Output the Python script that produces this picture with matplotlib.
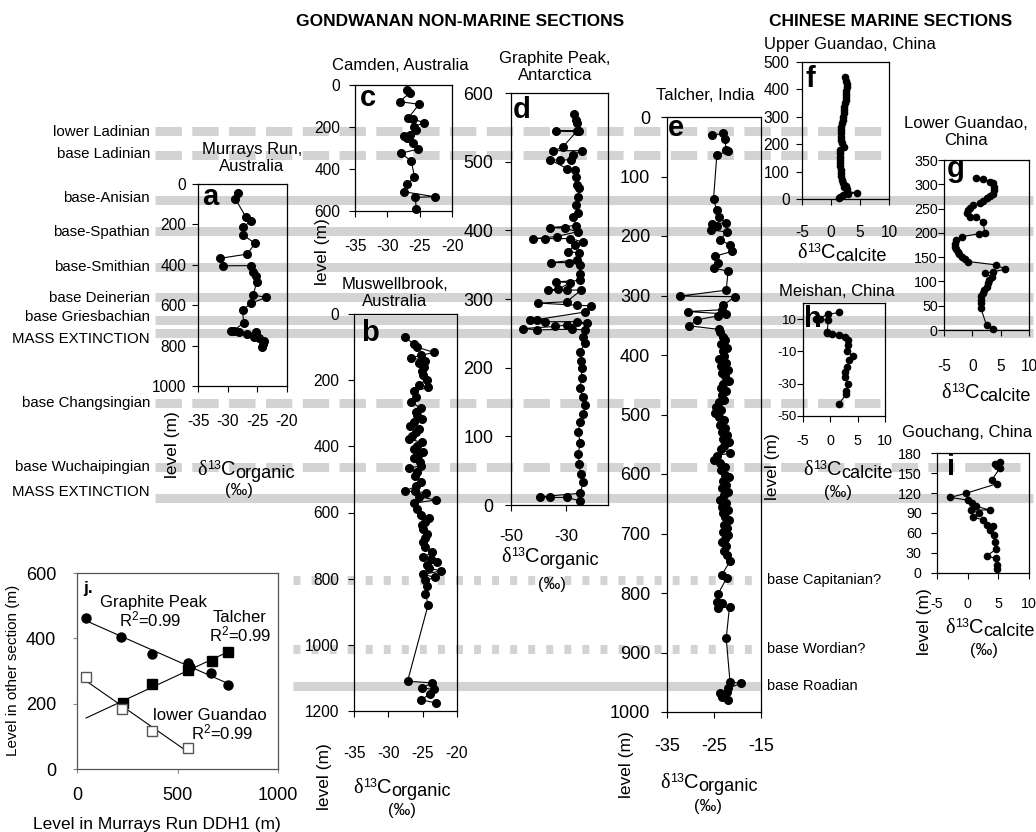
import numpy as np
import matplotlib
matplotlib.use('Agg')
import matplotlib.pyplot as plt
from matplotlib import font_manager
from matplotlib.lines import Line2D

# ---------------------------------------------------------------------------
# Data (level in m, delta13C in permil)
# ---------------------------------------------------------------------------

# a. Murrays Run, Australia
murrays_level = [46, 74, 165, 183, 214, 252, 294, 347, 368, 405, 404, 438, 455, 484, 550,
                 561, 591, 624, 687, 726, 730, 735, 743, 735, 755, 764, 775, 790, 805]
murrays_d13c = [-28.2, -28.7, -26.9, -26.0, -27.5, -27.4, -25.4, -26.7, -31.3, -30.8, -26.1,
                -25.7, -25.3, -25.1, -25.7, -23.5, -26.1, -27.5, -27.3, -29.0, -29.5, -28.1,
                -26.7, -25.3, -25.6, -24.7, -23.9, -24.0, -24.2]

# c. Camden, Australia
camden_level = [24, 37, 79, 92, 159, 163, 179, 198, 214, 238, 243, 254, 275, 305, 325, 362,
                437, 473, 508, 532, 535, 592]
camden_d13c = [-26.9, -26.5, -28.1, -25.1, -26.8, -26.0, -24.3, -25.8, -25.5, -26.5, -27.4,
               -26.9, -26.1, -25.2, -27.9, -26.3, -25.8, -26.9, -27.5, -22.7, -25.7, -25.5]

# b. Muswellbrook, Australia
muswell_level = [70, 91, 100, 116, 125, 132, 142, 147, 160, 173, 185, 198, 214, 222, 234, 250,
                 265, 285, 295, 306, 316, 326, 338, 347, 358, 368, 378, 388, 398, 408, 416,
                 424, 436, 448, 460, 465, 478, 490, 509, 520, 536, 536, 541, 552, 562, 572,
                 590, 608, 618, 628, 639, 650, 664, 676, 690, 705, 720, 736, 742, 751, 758,
                 767, 777, 787, 796, 805, 823, 845, 879, 1110, 1115, 1130, 1135, 1148, 1166,
                 1176]
muswell_d13c = [-27.6, -26.3, -25.8, -23.4, -25.2, -26.7, -24.6, -25.6, -24.8, -25.1, -24.9,
                -24.4, -25.6, -24.2, -26.3, -25.9, -26.7, -25.3, -26.0, -25.8, -25.1, -26.3,
                -26.9, -25.6, -25.9, -26.6, -27.0, -25.1, -25.8, -26.3, -25.0, -25.6, -26.2,
                -25.4, -25.3, -27.0, -25.8, -26.1, -25.2, -25.9, -27.6, -26.1, -24.5, -25.6,
                -23.1, -26.3, -25.8, -25.3, -24.1, -24.7, -25.1, -24.9, -24.4, -24.6, -25.0,
                -24.6, -23.6, -24.9, -23.8, -22.9, -24.4, -24.1, -22.4, -24.9, -23.2, -24.6,
                -24.4, -24.6, -24.2, -27.2, -23.6, -25.1, -23.4, -23.9, -25.2, -23.1]

# d. Graphite Peak, Antarctica
graphite_level = [570, 561, 556, 545, 545, 544, 521, 516, 516, 510, 503, 502, 503, 490, 488,
                  478, 466, 461, 449, 437, 425, 420, 407, 404, 403, 398, 391, 388, 388, 388,
                  383, 379, 369, 367, 357, 353, 353, 350, 337, 327, 325, 324, 314, 313, 313,
                  313, 296, 294, 291, 290, 281, 270, 269, 267, 267, 265, 262, 260, 257, 255,
                  256, 255, 245, 236, 223, 210, 200, 185, 170, 158, 145, 132, 121, 107, 90,
                  75, 59, 45, 33, 17, 12, 11, 11, 6]
graphite_d13c = [-27.3, -26.5, -26.1, -25.4, -33.8, -26.3, -31.4, -34.7, -24.5, -27.5, -28.5,
                 -32.3, -35.9, -29.9, -26.9, -26.5, -26.1, -25.4, -25.7, -26.5, -25.7, -27.5,
                 -26.5, -35.9, -30.5, -26.0, -33.5, -42.0, -37.7, -28.7, -23.9, -26.9, -29.3,
                 -25.4, -26.1, -35.7, -29.0, -25.1, -25.1, -25.1, -33.8, -28.7, -32.9, -36.5,
                 -29.9, -24.7, -29.9, -40.1, -26.3, -21.2, -23.3, -40.7, -43.1, -37.7, -26.3,
                 -22.7, -29.9, -34.1, -45.6, -40.7, -28.1, -23.3, -24.0, -23.3, -25.1, -24.6,
                 -24.5, -24.5, -25.1, -24.2, -23.3, -23.9, -25.1, -25.7, -25.1, -25.7, -25.4,
                 -24.9, -23.9, -25.1, -39.5, -35.9, -29.9, -25.1]

# e. Talcher, India
talcher_level = [31, 27, 37, 55, 57, 64, 138, 157, 168, 178, 179, 184, 190, 193, 207, 215,
                 226, 234, 246, 254, 259, 291, 301, 302, 316, 324, 327, 331, 334, 341, 351,
                 357, 362, 369, 375, 382, 388, 393, 401, 406, 413, 418, 425, 431, 436, 443,
                 449, 456, 460, 468, 475, 479, 487, 492, 498, 505, 509, 517, 522, 529, 534,
                 541, 546, 553, 558, 565, 569, 577, 582, 589, 594, 601, 605, 612, 619, 624,
                 631, 636, 643, 648, 655, 661, 666, 673, 678, 685, 691, 697, 702, 709, 714,
                 721, 729, 736, 747, 770, 775, 801, 815, 817, 826, 823, 876, 949, 952, 960,
                 966, 968, 974, 979]
talcher_d13c = [-25.5, -23.0, -22.7, -22.4, -22.0, -24.4, -25.1, -24.4, -23.9, -22.4, -25.5,
                -24.4, -25.7, -22.3, -23.7, -21.6, -21.2, -24.8, -24.1, -25.1, -22.0, -22.4,
                -32.2, -20.5, -23.0, -23.4, -30.6, -22.4, -24.1, -28.6, -30.3, -23.9, -23.8,
                -23.0, -22.6, -23.5, -22.2, -23.1, -22.8, -23.9, -22.5, -23.6, -22.1, -23.2,
                -22.7, -21.8, -23.0, -23.6, -22.4, -23.3, -22.9, -24.0, -24.6, -23.5, -24.8,
                -23.9, -22.9, -23.8, -22.6, -23.4, -22.2, -23.0, -21.9, -22.8, -23.6, -21.5,
                -24.4, -24.9, -23.8, -22.7, -23.5, -22.6, -21.8, -23.1, -22.4, -23.3, -22.0,
                -22.9, -23.7, -22.5, -23.2, -22.1, -23.0, -22.6, -21.9, -22.8, -22.2, -23.1,
                -22.0, -22.7, -23.3, -22.4, -22.9, -22.3, -21.6, -23.4, -22.3, -24.1, -24.4,
                -23.4, -24.1, -21.7, -22.4, -21.6, -19.3, -22.0, -22.3, -23.7, -23.4, -22.0]

# f. Upper Guandao, China
upper_guandao_level = [444, 431, 419, 408, 395, 385, 371, 361, 349, 336, 325, 313, 301, 287,
                       276, 264, 251, 241, 227, 217, 203, 191, 179, 169, 155, 144, 130, 121,
                       107, 94, 84, 71, 57, 49, 45, 37, 27, 23, 18, 15, 8, 4]
upper_guandao_d13c = [2.4, 2.6, 2.7, 2.7, 2.6, 2.5, 2.5, 2.5, 2.4, 2.3, 2.3, 2.2, 2.1, 2.0,
                      1.9, 1.8, 1.8, 1.8, 1.7, 1.8, 1.9, 2.3, 1.6, 1.5, 1.6, 1.5, 1.5, 1.6,
                      1.7, 1.7, 1.8, 1.9, 2.0, 2.6, 2.2, 2.7, 2.7, 4.4, 3.0, 2.1, 1.6, 1.4]

# g. Lower Guandao, China
lower_guandao_level = [313, 310, 305, 302, 295, 288, 281, 276, 271, 266, 261, 257, 252, 248,
                       240, 233, 232, 223, 200, 198, 192, 185, 178, 171, 166, 161, 156, 151,
                       146, 141, 134, 125, 120, 117, 110, 103, 96, 89, 83, 76, 69, 62, 55,
                       45, 10, 3]
lower_guandao_d13c = [0.65, 1.9, 3.1, 3.6, 3.8, 3.9, 3.6, 3.2, 2.5, 1.9, 1.35, 0.2, -0.5,
                      -0.7, -1.0, -0.4, 0.65, 1.9, 2.2, 1.1, -1.9, -2.9, -3.1, -3.06, -2.9,
                      -2.6, -2.3, -1.9, -1.3, -0.7, 4.2, 5.8, 3.7, 2.2, 3.4, 3.0, 2.8, 2.5,
                      2.1, 1.8, 1.6, 1.5, 1.6, 1.5, 2.5, 3.7]

# h. Meishan, China
meishan_level = [14.2, 12.9, 10.0, 9.8, 9.4, 2.1, 1.5, 0.6, 0.4, -1.1, -3.1, -6.3, -10.0,
                 -13.0, -15.6, -19.8, -23.0, -26.0, -30.0, -34.4, -36.5, -42.3]
meishan_d13c = [1.6, -0.4, -2.6, -1.9, -0.4, -0.55, -0.7, 0.25, 1.5, 2.7, 3.3, 3.2, 3.0, 4.1,
                3.5, 3.0, 2.7, 2.7, 3.3, 2.9, 2.9, 1.6]

# i. Gouchang, China
gouchang_level = [167, 164, 160, 158, 139, 134, 119.5, 113.5, 109, 105, 100, 94.5, 94.5, 89.5,
                  84, 79.5, 72, 70.5, 64.5, 57, 47, 35.5, 25.5, 22, 12, 5.5]
gouchang_d13c = [5.3, 4.5, 4.8, 5.3, 3.9, 4.8, -0.3, -2.8, 0.1, 0.7, 1.4, 3.6, 0.5, 1.9, 0.9,
                 2.5, 3.1, 4.2, 3.6, 4.3, 4.5, 4.6, 3.1, 4.6, 4.8, 4.8]

# j. correlation of other sections against Murrays Run DDH1
gp_murrays = [45, 217, 372, 554, 560, 665, 753]
gp_level = [461, 403, 352, 323, 312, 293, 257]
ta_murrays = [227, 372, 554, 670, 753]
ta_level = [201, 260, 303, 331, 359]
lg_murrays = [45, 222, 372, 554]
lg_level = [281, 183, 117, 63]

# stage boundaries (labels on the left and on the right)
left_stages = ['lower Ladinian', 'base Ladinian', 'base-Anisian', 'base-Spathian',
               'base-Smithian', 'base Deinerian', 'base Griesbachian', 'MASS EXTINCTION',
               'base Changsingian', 'base Wuchaipingian', 'MASS EXTINCTION']
right_stages = ['base Capitanian?', 'base Wordian?', 'base Roadian']

# ---------------------------------------------------------------------------
# Layout (pixel positions in a 1036 x 832 canvas)
# ---------------------------------------------------------------------------
W, H = 1036, 832
left_band_y = [131, 155, 200, 231, 267, 297, 320, 333, 403, 467, 498]
left_label_y = [132, 154, 198, 232, 267, 298, 317, 339, 403, 467, 492]
left_band_end = [888, 888, 1033, 1033, 1033, 1033, 1033, 1033, 880, 1020, 1033]
left_band_style = ['dash', 'dash', 'solid', 'solid', 'solid', 'solid', 'solid', 'solid',
                   'dash', 'dash', 'solid']
right_band_y = [580, 649, 686]
right_band_style = ['dot', 'dot', 'solid']

plt.rcParams['lines.scale_dashes'] = False
plt.rcParams['mathtext.fontset'] = 'custom'
plt.rcParams['mathtext.rm'] = 'Liberation Sans'
plt.rcParams['mathtext.sf'] = 'Liberation Sans'
plt.rcParams['mathtext.it'] = 'Liberation Sans:italic'
plt.rcParams['mathtext.bf'] = 'Liberation Sans:bold'

SANS = 'Liberation Sans'
SERIF = 'Liberation Serif'
installed = {f.name for f in font_manager.fontManager.ttflist}
NARROW = 'Liberation Sans Narrow' if 'Liberation Sans Narrow' in installed else None
BAND = '#d3d3d3'


def nar(size):
    # condensed face used for most tick labels
    if NARROW:
        return {'family': NARROW, 'size': size}
    return {'family': SANS, 'size': round(size * 0.86, 1)}


def reg(size):
    return {'family': SANS, 'size': size}


fig = plt.figure(figsize=(W / 100, H / 100), dpi=100)
renderer = fig.canvas.get_renderer()


def fx(x):
    return x / W


def fy(y):
    return 1 - y / H


def put(x, y, s, **kw):
    kw.setdefault('ha', 'center')
    kw.setdefault('va', 'center')
    kw.setdefault('family', SANS)
    return fig.text(fx(x), fy(y), s, **kw)


def iso_label(x, base_y, kind, size=14.5):
    # delta13C label built from pieces: serif delta, raised 13, C and a lowered subscript
    em = size * 100 / 72
    pieces = [('δ', SERIF, size, 0.0),
              ('13', SANS, size * 0.62, 0.30 * em),
              ('C', SANS, size, 0.0),
              (kind, SANS, size * 0.9, -0.16 * em)]
    texts = []
    for s, fam, sz, dy in pieces:
        t = fig.text(0, 0, s, family=fam, size=sz, ha='left', va='baseline')
        texts.append((t, dy))
    widths = [t.get_window_extent(renderer).width for t, _ in texts]
    x0 = x - sum(widths) / 2
    for (t, dy), w in zip(texts, widths):
        t.set_position((fx(x0), fy(base_y - dy)))
        x0 += w


def band(y, x0, x1, style):
    line = Line2D([fx(x0), fx(x1)], [fy(y), fy(y)], transform=fig.transFigure,
                  color=BAND, lw=6.5, solid_capstyle='butt', dash_capstyle='butt', zorder=-1)
    if style == 'dash':
        line.set_dashes([19, 7.5])
    elif style == 'dot':
        line.set_dashes([5, 8])
    fig.add_artist(line)


def add_box(x0, y0, x1, y1):
    ax = fig.add_axes([fx(x0), fy(y1), (x1 - x0) / W, (y1 - y0) / H])
    ax.set_facecolor('none')
    for s in ax.spines.values():
        s.set_linewidth(0.9)
    return ax


def profile(box, vals, levels, xlim, xticks, ylim, yticks, xfont, yfont, xpad, ypad, ms=5.5):
    ax = add_box(*box)
    ax.plot(vals, levels, color='black', lw=0.8, marker='o', ms=ms,
            mfc='black', mec='black', clip_on=False)
    ax.set_xlim(*xlim)
    ax.set_ylim(*ylim)
    ax.set_xticks(xticks)
    ax.set_xticklabels([str(t) for t in xticks], **xfont)
    ax.set_yticks(yticks)
    ax.set_yticklabels([str(t) for t in yticks], **yfont)
    ax.tick_params(axis='x', direction='out', length=4, width=0.8, pad=xpad)
    ax.tick_params(axis='y', direction='out', length=4, width=0.8, pad=ypad)
    return ax


# grey stage bands behind everything
for y, x1, st in zip(left_band_y, left_band_end, left_band_style):
    band(y, 155, x1, st)
for y, st in zip(right_band_y, right_band_style):
    band(y, 293, 760, st)

for name, y in zip(left_stages, left_label_y):
    put(150, y, name, ha='right', **nar(12.5))
for name, y in zip(right_stages, right_band_y):
    put(767, y, name, ha='left', size=10.5)

# headings
put(460, 22, 'GONDWANAN NON-MARINE SECTIONS', size=12.5, weight='bold')
put(891, 22, 'CHINESE MARINE SECTIONS', size=12.5, weight='bold')

# a. Murrays Run
profile((198, 184, 287, 386), murrays_d13c, murrays_level, (-35, -20), [-35, -30, -25, -20],
        (1000, 0), [0, 200, 400, 600, 800, 1000], nar(13), nar(13), 16.5, 4.3)
put(252, 158, 'Murrays Run,\nAustralia', size=12, linespacing=1.15)
put(202, 205, 'a', ha='left', va='baseline', size=21, weight='bold')
put(172, 445, 'level (m)', rotation=90, size=12.5)
iso_label(246, 475, 'organic')
put(239, 491, '(‰)', size=12)

# c. Camden
profile((355, 85, 452, 211), camden_d13c, camden_level, (-35, -20), [-35, -30, -25, -20],
        (600, 0), [0, 200, 400, 600], nar(13), nar(13), 16.5, 6.5)
put(400, 65, 'Camden, Australia', size=12)
put(360, 106, 'c', ha='left', va='baseline', size=21, weight='bold')
put(322, 252, 'level (m)', rotation=90, size=12.5)

# b. Muswellbrook
profile((354, 314, 457, 711), muswell_d13c, muswell_level, (-35, -20), [-35, -30, -25, -20],
        (1200, 0), [0, 200, 400, 600, 800, 1000, 1200], nar(13), nar(13), 21, 6.5)
put(395, 293, 'Muswellbrook,\nAustralia', size=12, linespacing=1.15)
put(361, 341, 'b', ha='left', va='baseline', size=21, weight='bold')
put(325, 777, 'level (m)', rotation=90, size=12.5)
iso_label(402, 793, 'organic')
put(402, 810, '(‰)', size=12)

# d. Graphite Peak
profile((511, 93, 608, 505), graphite_d13c, graphite_level, (-50, -15), [-50, -30],
        (0, 600), [0, 100, 200, 300, 400, 500, 600], nar(14), nar(15), 13, 8.6)
put(555, 67, 'Graphite Peak,\nAntarctica', size=12, linespacing=1.15)
put(513, 118, 'd', ha='left', va='baseline', size=21, weight='bold')
iso_label(550, 562, 'organic')
put(552, 585, '(‰)', size=12)

# e. Talcher
profile((667, 117, 761, 712), talcher_d13c, talcher_level, (-35, -15), [-35, -25, -15],
        (1000, 0), list(range(0, 1001, 100)), reg(13), reg(13), 15, 8)
put(705, 96, 'Talcher, India', size=12)
put(668, 136, 'e', ha='left', va='baseline', size=21, weight='bold')
put(627, 765, 'level (m)', rotation=90, size=12.5)
iso_label(709, 788, 'organic')
put(708, 807, '(‰)', size=12)

# f. Upper Guandao
profile((802, 62, 889, 199), upper_guandao_d13c, upper_guandao_level, (-5, 10), [-5, 0, 5, 10],
        (0, 500), [0, 100, 200, 300, 400, 500], nar(13), nar(13), 14.4, 5, ms=4.5)
put(850, 45, 'Upper Guandao, China', size=12)
put(806, 87, 'f', ha='left', va='baseline', size=21, weight='bold')
iso_label(842, 258, 'calcite')

# g. Lower Guandao
profile((944, 160, 1029, 330), lower_guandao_d13c, lower_guandao_level, (-5, 10),
        [-5, 0, 5, 10], (0, 350), [0, 50, 100, 150, 200, 250, 300, 350], nar(13), nar(12),
        17, 0.5, ms=4.5)
put(966, 132, 'Lower Guandao,\nChina', size=12, linespacing=1.15)
put(947, 177, 'g', ha='left', va='baseline', size=21, weight='bold')
iso_label(986, 398, 'calcite')

# h. Meishan
profile((803, 303, 885, 416), meishan_d13c, meishan_level, (-5, 10), [-5, 0, 5, 10],
        (-50, 20), [-50, -30, -10, 10], nar(12), reg(9.5), 9, 0.7, ms=4.5)
put(837, 292, 'Meishan, China', size=12)
put(804, 327, 'h', ha='left', va='baseline', size=21, weight='bold')
put(773, 467, 'level (m)', rotation=90, size=12.5)
iso_label(848, 475, 'calcite')
put(838, 493, '(‰)', size=12)

# i. Gouchang
profile((937, 453, 1029, 573), gouchang_d13c, gouchang_level, (-5, 10), [-5, 0, 5, 10],
        (0, 180), [0, 30, 60, 90, 120, 150, 180], nar(12), nar(12), 13, 7, ms=4.5)
put(967, 432, 'Gouchang, China', size=12)
put(947, 475, 'i', ha='left', va='baseline', size=21, weight='bold')
put(924, 622, 'level (m)', rotation=90, size=12.5)
iso_label(990, 633, 'calcite')
put(984, 651, '(‰)', size=12)

# j. correlation panel
axj = add_box(77, 573, 278, 769)
axj.set_facecolor('white')
for s in axj.spines.values():
    s.set_color('#555555')
x_start = min(gp_murrays + ta_murrays + lg_murrays)
for xs, ys, style in [(gp_murrays, gp_level, dict(marker='o', mfc='black', mec='black', ms=6.5)),
                      (ta_murrays, ta_level, dict(marker='s', mfc='black', mec='black', ms=6.5)),
                      (lg_murrays, lg_level, dict(marker='s', mfc='white', mec='#555555',
                                                  ms=7, mew=1.0))]:
    slope, icpt = np.polyfit(xs, ys, 1)
    xx = np.array([x_start, max(xs)])
    axj.plot(xx, slope * xx + icpt, color='black', lw=0.8)
    axj.plot(xs, ys, ls='none', **style)
axj.set_xlim(0, 1000)
axj.set_ylim(0, 600)
axj.set_xticks([0, 500, 1000])
axj.set_xticklabels(['0', '500', '1000'], **reg(13))
axj.set_yticks([0, 200, 400, 600])
axj.set_yticklabels(['0', '200', '400', '600'], **reg(13))
axj.tick_params(direction='out', length=3, color='#888888', pad=12)
axj.tick_params(axis='x', pad=10)
put(157, 825, 'Level in Murrays Run DDH1 (m)', size=12.5)
put(13, 670, 'Level in other section (m)', rotation=90, size=11)
put(83, 593, 'j.', ha='left', va='baseline', size=12.5, weight='bold')
put(153, 602, 'Graphite Peak', size=12)
put(150, 619, r'R$^{\mathsf{2}}$=0.99', size=12)
put(240, 618, 'Talcher', size=12)
put(240, 634, r'R$^{\mathsf{2}}$=0.99', size=12)
put(210, 715, 'lower Guandao', size=12)
put(222, 732, r'R$^{\mathsf{2}}$=0.99', size=12)

fig.savefig('out.png', dpi=100)
